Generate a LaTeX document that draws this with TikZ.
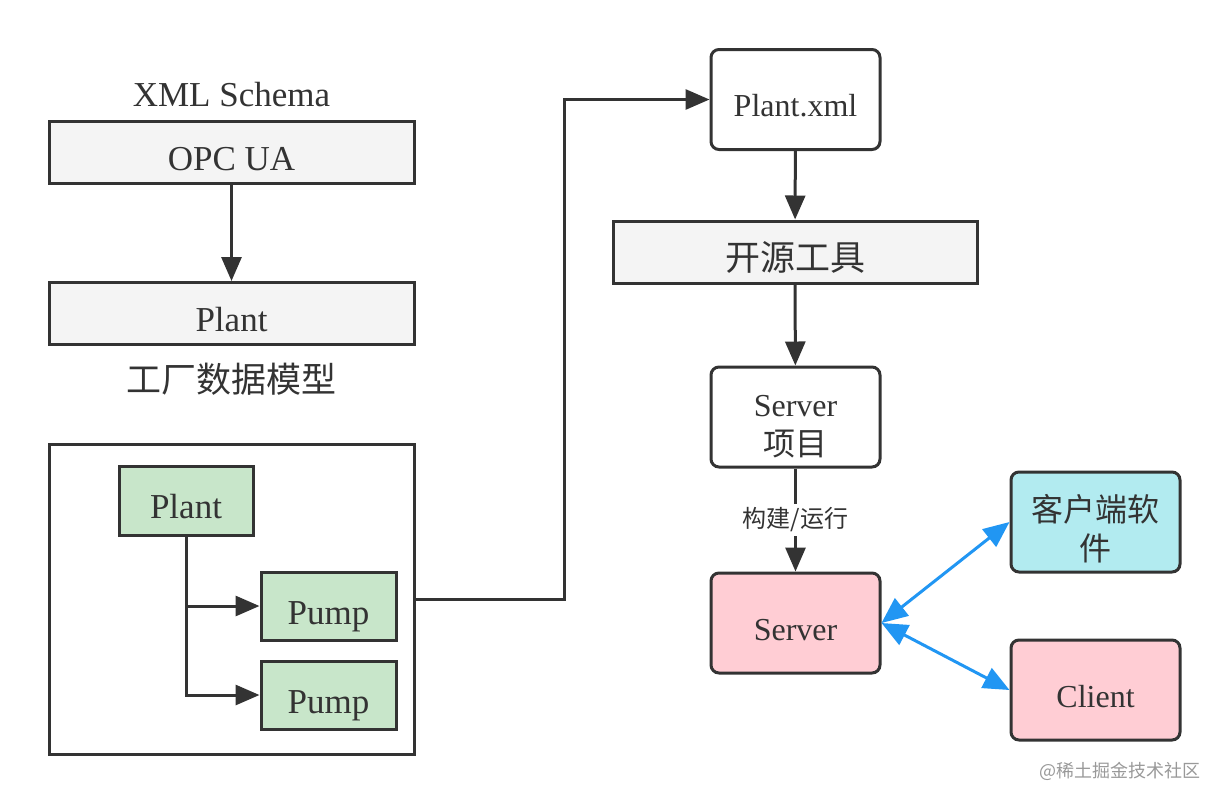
\documentclass[tikz,border=0pt]{standalone}
\usepackage{fontspec}
\setmainfont{Liberation Serif}
\newfontfamily\cjk{Noto Sans CJK SC}
\usetikzlibrary{arrows.meta}
\usetikzlibrary{positioning}

\definecolor{ink}{HTML}{333333}
\definecolor{boxgray}{HTML}{F4F4F4}
\definecolor{leafgreen}{HTML}{C8E6CA}
\definecolor{rosepink}{HTML}{FFCDD4}
\definecolor{skycyan}{HTML}{B2EBF0}
\definecolor{linkblue}{HTML}{2196F3}

\newcommand{\topstrut}{\rule{0pt}{20pt}}

\tikzset{
	bigtext/.style={font=\fontsize{17.5}{21}\selectfont},
	smalltext/.style={font=\fontsize{16}{19.5}\selectfont},
	lowered/.style={text height=#1, text depth=0pt},
	box/.style={draw=ink, line width=1.5pt, text=ink, inner sep=0pt},
	graybox/.style={box, fill=boxgray, bigtext, lowered=18pt, minimum width=182.5pt, minimum height=31pt},
	greenbox/.style={box, fill=leafgreen, bigtext, lowered=18pt, minimum width=67.5pt, minimum height=34pt},
	roundbox/.style={box, rounded corners=4pt, smalltext, minimum width=84.5pt, minimum height=50pt},
	flow/.style={draw=ink, line width=1.5pt, -{Triangle[length=12pt, width=10pt]}},
	link/.style={draw=linkblue, line width=1.5pt, {Triangle[length=13pt, width=11pt]}-{Triangle[length=13pt, width=11pt]}}
}

\begin{document}
\begin{tikzpicture}[x=0.5pt, y=-0.5pt]
	\useasboundingbox (0, 0) rectangle (1230, 804);

	% left column: schema and model
	\node[graybox] (opc) at (231.5, 152) {OPC UA};
	\node[bigtext, text=ink, above=3pt of opc] (schema) {XML Schema};
	\node[graybox] (plant) at (231.5, 313.5) {Plant};
	\node[bigtext, text=ink, below=5pt of plant] (model) {\cjk 工厂数据模型};
	\draw[flow] (opc) -- (plant);

	% instance tree
	\node[box, fill=white, minimum width=182.5pt, minimum height=155pt] (tree) at (231.5, 599) {};
	\node[greenbox, minimum width=67pt, minimum height=34.5pt] (gplant) at (186, 500.5) {Plant};
	\node[greenbox] (pumpa) at (328.5, 606) {Pump};
	\node[greenbox] (pumpb) at (328.5, 695) {Pump};
	\draw[flow] (gplant.south) |- (pumpa.west);
	\draw[flow] (gplant.south) |- (pumpb.west);

	% right column: tool chain
	\node[roundbox, lowered=17pt] (xml) at (795.5, 99.5) {Plant.xml};
	\node[graybox, minimum width=182pt] (tool) at (795, 252) {\cjk 开源工具};
	\node[roundbox, align=center] (project) at (795.5, 417) {\topstrut Server\\{\cjk 项目}};
	\node[roundbox, lowered=17pt, fill=rosepink] (server) at (795.5, 623) {Server};
	\node[roundbox, align=center, fill=skycyan] (soft) at (1095.5, 522) {\topstrut\cjk 客户端软\\\cjk 件};
	\node[roundbox, lowered=17pt, fill=rosepink] (client) at (1095.5, 690) {Client};

	\draw[flow] (tree.east) -- ++(149, 0) |- (xml.west);
	\draw[flow] (xml) -- (tool);
	\draw[flow] (tool) -- (project);
	\draw[flow] (project) -- node[fill=white, text=ink, inner sep=2pt, font=\fontsize{12}{14}\selectfont\cjk] {构建/运行} (server);

	\draw[link] (server.east) -- (soft.west);
	\draw[link] (server.east) -- (client.west);

	\node[text=black!40, font=\fontsize{9}{11}\selectfont\cjk, anchor=east] (mark) at (1208, 771) {@稀土掘金技术社区};
\end{tikzpicture}
\end{document}
